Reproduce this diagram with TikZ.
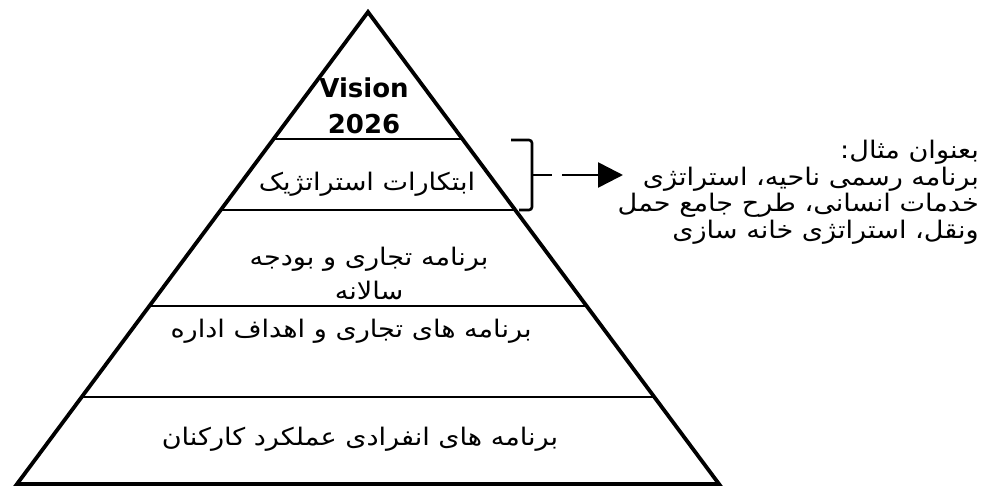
\documentclass[tikz,border=0pt]{standalone}
\usepackage{fontspec}
\setmainfont{DejaVu Sans}
\newfontfamily\fa[Script=Arabic,FakeStretch=1.12]{DejaVu Sans}
\TeXXeTstate=1
\usetikzlibrary{arrows.meta,calc}
\begin{document}
\begin{tikzpicture}[x=1pt,y=-1pt,
  outline/.style={line width=3.8pt,line join=miter},
  level/.style={line width=2.6pt},
  fatext/.style={inner sep=0pt,font=\fa\fontsize{24.2}{26.5}\selectfont},
  vis/.style={inner sep=0pt,anchor=base,font=\bfseries\fontsize{26}{30}\selectfont},
  brace/.style={line width=2.6pt,rounded corners=3pt},
  pointer/.style={line width=2.6pt,-{Triangle[length=25pt,width=25pt]}}]
\useasboundingbox (0,0) rectangle (985,487);
\fill[white] (0,0) rectangle (985,487);
\coordinate (A) at (368,12);
\coordinate (BL) at (17,484);
\coordinate (BR) at (719,484);
\foreach \n/\t in {1/0.2691,2/0.4195,3/0.6229,4/0.8157}{
  \coordinate (l\n) at ($(A)!\t!(BL)$);
  \coordinate (r\n) at ($(A)!\t!(BR)$);
}
\foreach \n in {1,2,3,4}{\draw[level] (l\n) -- (r\n);}
\draw[outline] (A) -- (BR) -- (BL) -- cycle;
% texts
\node[vis] (v1) at (364,97) {Vision};
\node[vis] (v2) at (364,133) {2026};
\node[fatext] (t1) at (367,184) {\beginR ابتکارات استراتژیک\endR};
\node[fatext] (t2) at (369,259) {\beginR برنامه تجاری و بودجه\endR};
\node[fatext] (t2b) at (369,290) {\beginR سالانه\endR};
\node[fatext] (t3) at (351,331) {\beginR برنامه های تجاری و اهداف اداره\endR};
\node[fatext] (t4) at (360,439) {\beginR برنامه های انفرادی عملکرد کارکنان\endR};
\node[fatext,anchor=north east,align=right] (ex) at (979,140) {%
  \beginR بعنوان مثال:\endR\\
  \beginR برنامه رسمی ناحیه، استراتژی\endR\\
  \beginR خدمات انسانی، طرح جامع حمل\endR\\
  \beginR ونقل، استراتژی خانه سازی\endR};
% bracket and arrow
\coordinate (bt) at (511,140);
\coordinate (bb) at (519,210);
\coordinate (bm) at (532,175);
\coordinate (tick) at (552,175);
\draw[brace] (bt) -- (532,140) -- (532,210) -- (bb);
\draw[line width=2.6pt] (bm) -- (tick);
\coordinate (as) at (562,175);
\coordinate (ae) at (623,175);
\draw[pointer] (as) -- (ae);
\end{tikzpicture}
\end{document}
